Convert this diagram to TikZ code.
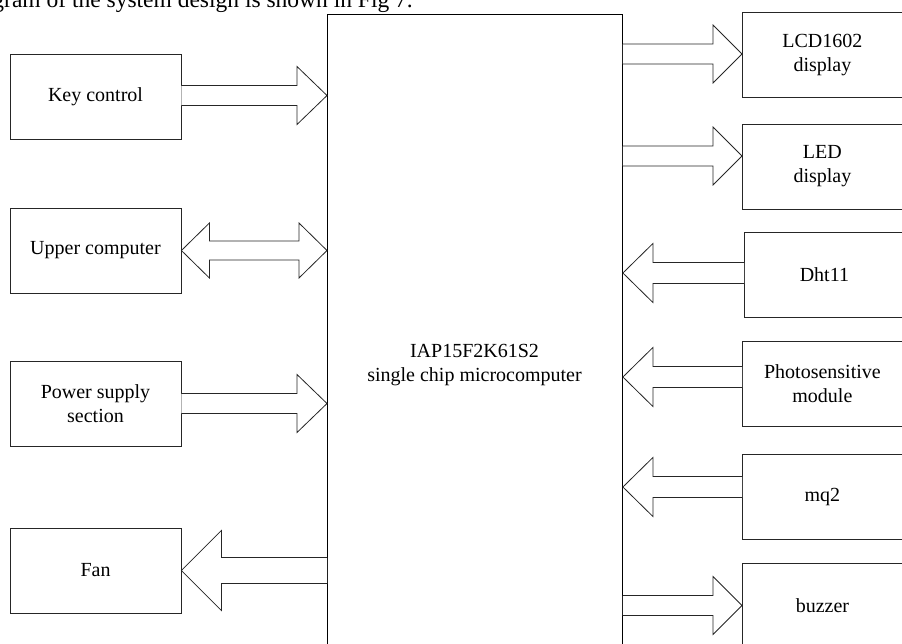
\documentclass[tikz,border=0pt]{standalone}
\usepackage{fontspec}
\setmainfont{Liberation Serif}
\usetikzlibrary{calc}
\tikzset{
  x=1pt,y=-1pt,
  box/.style={draw=black!85,line width=0.8pt,fill=white,minimum width=171pt,minimum height=85pt,inner sep=0pt,align=center,font=\fontsize{20}{24}\selectfont},
  rbox/.style={box,minimum width=160pt},
  chip/.style={draw=black,line width=0.9pt,minimum width=295pt,minimum height=640pt,inner sep=0pt},
  blk/.style={draw=black!85,line width=0.8pt,line join=miter,fill=white},
}
% right-pointing block arrow: tail point #1, tip point #2, shaft half #3, head half #4, head length #5
\newcommand\arrR[5]{\draw[blk] (#1) ++(0,-#3) -- ($(#2)+(-#5,-#3)$) -- ($(#2)+(-#5,-#4)$) -- (#2) -- ($(#2)+(-#5,#4)$) -- ($(#2)+(-#5,#3)$) -- ($(#1)+(0,#3)$);}
\newcommand\arrL[5]{\draw[blk] (#1) ++(0,-#3) -- ($(#2)+(#5,-#3)$) -- ($(#2)+(#5,-#4)$) -- (#2) -- ($(#2)+(#5,#4)$) -- ($(#2)+(#5,#3)$) -- ($(#1)+(0,#3)$);}
\newcommand\arrB[5]{\draw[blk] (#1) -- ($(#1)+(#5,-#4)$) -- ($(#1)+(#5,-#3)$) -- ($(#2)+(-#5,-#3)$) -- ($(#2)+(-#5,-#4)$) -- (#2) -- ($(#2)+(-#5,#4)$) -- ($(#2)+(-#5,#3)$) -- ($(#1)+(#5,#3)$) -- ($(#1)+(#5,#4)$) -- cycle;}
\begin{document}
\begin{tikzpicture}
\useasboundingbox (0,0) rectangle (902,643);
\clip (0,0) rectangle (902,643);
\node[anchor=base east,font=\fontsize{23.5}{26}\selectfont,inner sep=0pt] (cap) at (413,7.5) {gram of the system design is shown in Fig 7.};
% chip
\node[chip,anchor=north west] (mcu) at (327,13.5) {};
\node[align=center,font=\fontsize{20}{24}\selectfont] (mcut) at (474.5,365) {IAP15F2K61S2\\single chip microcomputer};
% left boxes
\node[box] (key) at (95.5,96.5) {Key control};
\node[box] (upper) at (95.5,250.5) {Upper computer};
\node[box] (power) at (95.5,403.5) {Power supply\\section};
\node[box] (fan) at (95.5,570.5) {Fan};
% right boxes
\node[rbox,anchor=west] (lcd) at (742,55) {LCD1602\\display};
\node[rbox,anchor=west] (led) at (742,166.5) {LED\\display};
\node[rbox,anchor=west] (dht) at (744,274.5) {Dht11};
\node[rbox,anchor=west] (photo) at (742,384) {Photosensitive\\module};
\node[rbox,anchor=west] (mq) at (742,497) {mq2};
\node[rbox,anchor=west] (buz) at (742,605.5) {buzzer};
% left arrows
\coordinate (k1) at ($(key.east)+(0,-1)$);
\coordinate (k2) at (mcu.west |- k1);
\arrR{k1}{k2}{10}{29}{30}
\coordinate (u1) at (upper.east);
\coordinate (u2) at (mcu.west |- u1);
\arrB{u1}{u2}{9.5}{27.5}{28}
\coordinate (p1) at (power.east);
\coordinate (p2) at (mcu.west |- p1);
\arrR{p1}{p2}{10}{29}{30}
\coordinate (f2) at (fan.east);
\coordinate (f1) at (mcu.west |- f2);
\arrL{f1}{f2}{13}{40}{40}
% right arrows
\coordinate (l2) at ($(lcd.west)+(0,-1)$);
\coordinate (l1) at (mcu.east |- l2);
\arrR{l1}{l2}{10}{29}{29}
\coordinate (e2) at (led.west |- 0,156);
\coordinate (e1) at (mcu.east |- e2);
\arrR{e1}{e2}{10}{29}{29}
\coordinate (d1) at ($(dht.west)+(0,-1.5)$);
\coordinate (d2) at (mcu.east |- d1);
\arrL{d1}{d2}{10.5}{29.5}{30}
\coordinate (h1) at (photo.west |- 0,377);
\coordinate (h2) at (mcu.east |- h1);
\arrL{h1}{h2}{10.5}{29.5}{30}
\coordinate (m1) at (mq.west |- 0,487);
\coordinate (m2) at (mcu.east |- m1);
\arrL{m1}{m2}{10.5}{29.5}{30}
\coordinate (b2) at (buz.west);
\coordinate (b1) at (mcu.east |- b2);
\arrR{b1}{b2}{10}{29}{29}
\end{tikzpicture}
\end{document}
